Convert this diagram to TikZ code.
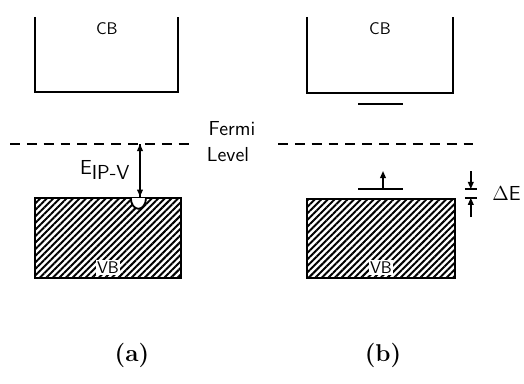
\documentclass[tikz,border=0pt]{standalone}
\usetikzlibrary{patterns.meta,arrows.meta,positioning}

\tikzset{
    band/.style={line width=1.3pt},
    vband/.style={draw, line width=1.3pt, minimum width=3.6cm, minimum height=2cm, inner sep=0pt,
        pattern={Lines[angle=45,distance=3.3pt,line width=1.4pt]}},
    lbl/.style={font=\sffamily\large},
    biglbl/.style={font=\sffamily\Large},
    fermiline/.style={dashed, dash pattern=on 7pt off 5pt, line width=1.1pt},
    gap/.style={line width=1.1pt, -{Triangle[length=5pt,width=4pt]}},
}

\begin{document}
\begin{tikzpicture}
\useasboundingbox (0,0) rectangle (13.1,9.575);

% conduction bands
\draw[band] (0.875,9.15) -- (0.875,7.275) -- (4.45,7.275) -- (4.45,9.15);
\node[lbl] (cbA) at (2.67,8.85) {CB};
\draw[band] (7.675,9.15) -- (7.675,7.25) -- (11.325,7.25) -- (11.325,9.15);
\node[lbl] (cbB) at (9.5,8.85) {CB};
\draw[band] (8.95,6.975) -- (10.075,6.975);

% valence bands
\node[vband, minimum width=3.65cm] (vbA) at (2.7,3.625) {};
\node[lbl, fill=white, inner sep=1pt, above=0.1cm of vbA.south] (vbAt) {VB};
\node[vband, minimum width=3.7cm, minimum height=1.975cm] (vbB) at (9.525,3.6125) {};
\node[lbl, fill=white, inner sep=1pt, above=0.1cm of vbB.south] (vbBt) {VB};

% hole at the top of VB (a)
\draw[band, fill=white] (3.27,4.625) arc (180:360:0.19 and 0.27);

% Fermi level
\draw[fermiline] (0.25,5.975) -- (4.875,5.975);
\draw[fermiline] (6.95,5.975) -- (12.0,5.975);
\node[biglbl] (fermi) at (5.8,6.35) {Fermi};
\node[biglbl] (level) at (5.7,5.72) {Level};

% E_IP-V
\coordinate (fa) at (3.5,5.975);
\coordinate (fb) at (3.5,4.66);
\draw[gap] (fb) -- (fa);
\draw[gap] (fa) -- (fb);
\node[biglbl] (eip) at (2.62,5.33) {E\raisebox{-0.5ex}{IP-V}};

% level above VB (b)
\draw[band] (8.95,4.85) -- (10.075,4.85);
\coordinate (lb) at (9.575,4.85);
\coordinate (lt) at (9.575,5.3);
\draw[gap] (lb) -- (lt);

% Delta E
\draw[line width=1.1pt] (11.62,4.85) -- (11.92,4.85);
\draw[line width=1.1pt] (11.62,4.63) -- (11.92,4.63);
\coordinate (da) at (11.77,5.3);
\coordinate (db) at (11.77,4.15);
\draw[gap] (da) -- (11.77,4.85);
\draw[gap] (db) -- (11.77,4.63);
\node[biglbl, anchor=west, inner sep=0pt] (de) at (12.3,4.75) {$\Delta$E};

% captions
\node[font=\LARGE\bfseries] (capA) at (3.3,0.7) {(a)};
\node[font=\LARGE\bfseries] (capB) at (9.575,0.7) {(b)};
\end{tikzpicture}
\end{document}
